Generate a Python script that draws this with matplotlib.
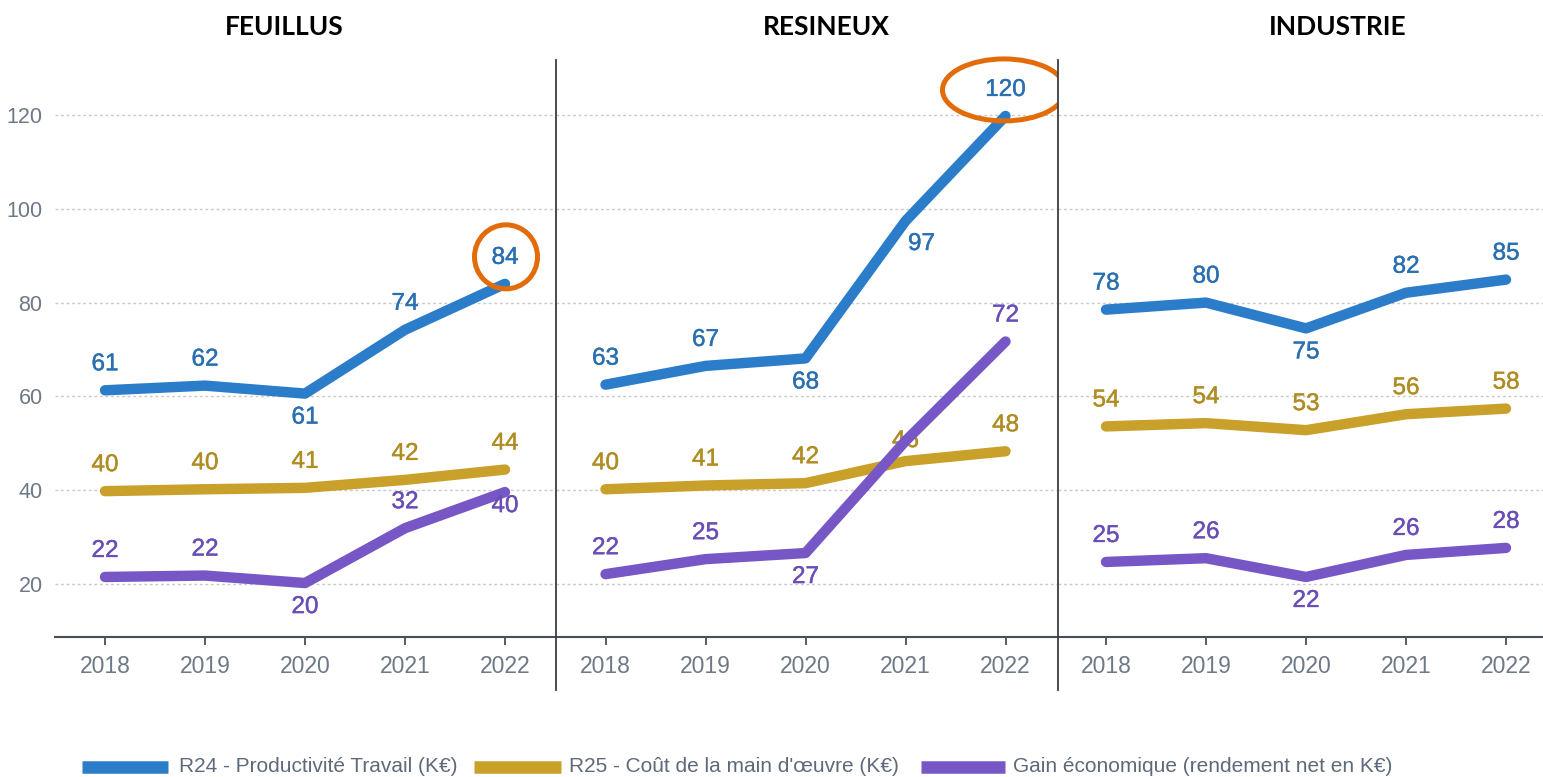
import matplotlib
matplotlib.use('Agg')
import matplotlib.pyplot as plt
import matplotlib.patheffects as pe
from matplotlib.patches import Ellipse
from matplotlib.lines import Line2D

# ---------------- data ----------------
years = [2018, 2019, 2020, 2021, 2022]
panel_titles = ['FEUILLUS', 'RESINEUX', 'INDUSTRIE']
series_names = ['R24 - Productivité Travail (K€)',
                "R25 - Coût de la main d'œuvre (K€)",
                'Gain économique (rendement net en K€)']

feuillus_r24 = [61.3, 62.3, 60.6, 74.2, 84.0]
feuillus_r25 = [39.8, 40.2, 40.5, 42.2, 44.4]
feuillus_gain = [21.5, 21.8, 20.2, 31.9, 39.6]
resineux_r24 = [62.5, 66.5, 68.1, 97.4, 119.8]
resineux_r25 = [40.2, 41.0, 41.5, 46.2, 48.3]
resineux_gain = [22.1, 25.3, 26.6, 50.5, 71.7]
industrie_r24 = [78.5, 80.0, 74.5, 82.1, 84.9]
industrie_r25 = [53.6, 54.3, 52.8, 56.2, 57.4]
industrie_gain = [24.7, 25.5, 21.5, 26.2, 27.7]

feuillus_r24_lbl = ['61', '62', '61', '74', '84']
feuillus_r25_lbl = ['40', '40', '41', '42', '44']
feuillus_gain_lbl = ['22', '22', '20', '32', '40']
resineux_r24_lbl = ['63', '67', '68', '97', '120']
resineux_r25_lbl = ['40', '41', '42', '46', '48']
resineux_gain_lbl = ['22', '25', '27', '', '72']
industrie_r24_lbl = ['78', '80', '75', '82', '85']
industrie_r25_lbl = ['54', '54', '53', '56', '58']
industrie_gain_lbl = ['25', '26', '22', '26', '28']

y_ticks = [20, 40, 60, 80, 100, 120]

# ---------------- styling ----------------
line_colors = ['#2B7DC9', '#C9A02A', '#7757C6']
label_colors = ['#2A6FB0', '#B08D22', '#6A4EB8']
tick_color = '#6E7886'
orange = '#E36C0A'

values = [[feuillus_r24, feuillus_r25, feuillus_gain],
          [resineux_r24, resineux_r25, resineux_gain],
          [industrie_r24, industrie_r25, industrie_gain]]
labels = [[feuillus_r24_lbl, feuillus_r25_lbl, feuillus_gain_lbl],
          [resineux_r24_lbl, resineux_r25_lbl, resineux_gain_lbl],
          [industrie_r24_lbl, industrie_r25_lbl, industrie_gain_lbl]]
# label placement: (panel, series, index) -> (dx px, dy px)
ABOVE = (0, 26)
special = {(0, 0, 2): (0, -24), (0, 2, 2): (0, -24), (0, 2, 4): (0, -14),
           (1, 0, 2): (0, -24), (1, 0, 3): (16, -23), (1, 2, 2): (0, -24),
           (1, 1, 3): (0, 20),
           (2, 0, 2): (0, -24), (2, 2, 2): (0, -24)}

W, H = 1543, 777
fig = plt.figure(figsize=(W / 100, H / 100), dpi=100)
fig.patch.set_facecolor('white')

regular = ['Liberation Sans', 'DejaVu Sans']

# panel pixel geometry: left, right, x-pixel of 2018
panels_px = [(55, 556, 105), (556, 1058, 605.5), (1058, 1543, 1106)]
top_px, bot_px = 60, 637
px_per_year = 100.0
zero_px, px_per_unit = 677.8, 4.69
ylim = ((zero_px - bot_px) / px_per_unit, (zero_px - top_px) / px_per_unit)

axes = []
for p, (l, r, x0) in enumerate(panels_px):
    ax = fig.add_axes([l / W, 1 - bot_px / H, (r - l) / W, (bot_px - top_px) / H])
    ax.set_xlim(2018 - (x0 - l) / px_per_year, 2018 + (r - x0) / px_per_year)
    ax.set_ylim(*ylim)
    for s in ['top', 'right', 'left']:
        ax.spines[s].set_visible(False)
    ax.spines['bottom'].set_color('#4A4F55')
    ax.spines['bottom'].set_linewidth(1.5)
    ax.set_xticks(years)
    ax.set_xticklabels([str(y) for y in years], fontsize=16.5, color=tick_color,
                       family=regular)
    ax.tick_params(axis='x', length=6, width=1.3, color='#4A4F55', pad=7)
    ax.set_yticks(y_ticks)
    if p == 0:
        ax.set_yticklabels([str(v) for v in y_ticks], fontsize=15.5, color=tick_color,
                           family=regular)
        ax.tick_params(axis='y', length=0, pad=9)
    else:
        ax.tick_params(axis='y', length=0, labelleft=False)
    for v in y_ticks:
        ax.axhline(v, color='#C9C9C9', lw=1.0, ls=(0, (2, 2)), zorder=1)

    for s in range(3):
        ax.plot(years, values[p][s], color=line_colors[s], lw=7.5,
                solid_capstyle='round', solid_joinstyle='round', zorder=3 + s)
        for i, (x, y) in enumerate(zip(years, values[p][s])):
            txt = labels[p][s][i]
            if not txt:
                continue
            dx, dy = special.get((p, s, i), ABOVE)
            ax.annotate(txt, (x, y), xytext=(dx, dy), textcoords='offset pixels',
                        ha='center', va='center', fontsize=17.5, color=label_colors[s],
                        family=regular, zorder=4.5 if s == 1 else 7,
                        annotation_clip=False,
                        path_effects=[pe.withStroke(linewidth=0.3,
                                                    foreground=label_colors[s])])
    axes.append(ax)

# highlight ellipses around the last values of FEUILLUS and RESINEUX R24
e1 = Ellipse((years[-1] + 0.01, feuillus_r24[-1] + 27 / px_per_unit), 0.63, 64 / px_per_unit,
             fill=False, ec=orange, lw=3.6, clip_on=False, zorder=8)
axes[0].add_patch(e1)
e2 = Ellipse((years[-1] - 0.015, resineux_r24[-1] + 26 / px_per_unit), 1.23, 62 / px_per_unit,
             fill=False, ec=orange, lw=3.6, clip_on=False, zorder=8)
axes[1].add_patch(e2)

# panel separators
for xs in (556, 1058):
    fig.add_artist(Line2D([xs / W, xs / W], [1 - 60 / H, 1 - 690 / H],
                          transform=fig.transFigure, color='#3A3D42', lw=1.3))

# titles
for t, xc in zip(panel_titles, (284, 826, 1338)):
    fig.text(xc / W, 1 - 27 / H, t, ha='center', va='center', fontsize=19,
             fontweight='bold', family=['Lato', 'DejaVu Sans'], color='black')

# legend (manual, bottom)
leg_y = 1 - 767 / H
leg_items = [(82, 168, 179), (474, 561, 569), (921, 1005, 1013)]
for (a, b, tx), name, c in zip(leg_items, series_names, line_colors):
    fig.add_artist(Line2D([a / W, b / W], [leg_y, leg_y], transform=fig.transFigure,
                          color=c, lw=9, solid_capstyle='butt'))
    fig.text(tx / W, leg_y, name, ha='left', va='center', fontsize=15,
             color='#5E6A79', family=regular)

fig.savefig('out.png', dpi=100, facecolor='white')
